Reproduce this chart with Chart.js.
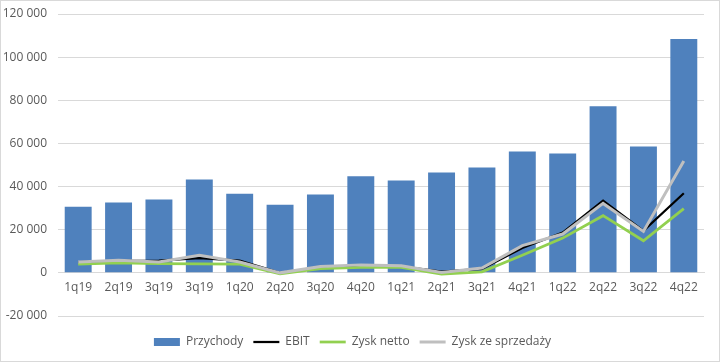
<!DOCTYPE html>
<html>
<head>
<meta charset="utf-8">
<script src="https://cdn.jsdelivr.net/npm/chart.js@4.4.1/dist/chart.umd.min.js"></script>
<style>
  html, body { margin: 0; padding: 0; background: #fff; }
  #wrap {
    position: absolute; left: 0; top: 0;
    width: 720px; height: 362px;
    box-sizing: border-box;
    border: 1px solid #d9d9d9;
  }
</style>
</head>
<body>
<div id="wrap"><canvas id="chart" width="718" height="360"></canvas></div>
<script>
// kwartały (etykiety jak w oryginale, z powtórzonym "3q19")
const quarters = [
  "1q19", "2q19", "3q19", "3q19", "1q20", "2q20", "3q20", "4q20",
  "1q21", "2q21", "3q21", "4q21", "1q22", "2q22", "3q22", "4q22",
];

const przychody = [
  30700, 32600, 34000, 43300, 36700, 31600, 36300, 44800,
  42800, 46500, 48800, 56300, 55300, 77200, 58600, 108400,
];

const ebit = [
  5000, 5500, 5700, 6800, 5700, 0, 2500, 3300,
  3000, 600, 1800, 11500, 18700, 33500, 19500, 36900,
];

const zyskNetto = [
  4000, 4600, 4300, 4200, 4000, -500, 2000, 2500,
  2500, -600, 500, 8200, 16100, 26500, 14900, 29800,
];

const zyskZeSprzedazy = [
  5000, 5900, 5000, 8200, 5000, 0, 2900, 3700,
  3300, 200, 2200, 12600, 18000, 32200, 19200, 51800,
];

const yTicks = { min: -20000, max: 120000, step: 20000 };

const textColor = "#595959";
const gridColor = "#d9d9d9";
const font = { family: "'Open Sans', 'Noto Sans', sans-serif", size: 12 };

// separator tysięcy jako spacja, np. "120 000"
const formatNumber = v => String(v).replace(/\B(?=(\d{3})+(?!\d))/g, " ");

const lineDataset = (label, data, color, width, order) => ({
  type: "line",
  label,
  data,
  borderColor: color,
  backgroundColor: color,
  borderWidth: width,
  pointRadius: 0,
  pointStyle: "line",
  tension: 0,
  order,
});

new Chart(document.getElementById("chart"), {
  type: "bar",
  data: {
    labels: quarters,
    datasets: [
      {
        label: "Przychody",
        data: przychody,
        backgroundColor: "#4f81bd",
        borderWidth: 0,
        categoryPercentage: 1,
        barPercentage: 0.667,
        pointStyle: "rect",
        order: 4,
      },
      lineDataset("EBIT", ebit, "#000000", 2.25, 3),
      lineDataset("Zysk netto", zyskNetto, "#92d050", 2.75, 2),
      lineDataset("Zysk ze sprzedaży", zyskZeSprzedazy, "#bfbfbf", 3, 1),
    ],
  },
  options: {
    responsive: false,
    animation: false,
    layout: {
      padding: { top: 13, right: 15, bottom: 3, left: 0 },
    },
    scales: {
      x: {
        // oś kategorii przy zerze, jak w Excelu
        position: { y: 0 },
        grid: { display: false },
        border: { display: true, color: gridColor },
        ticks: { color: textColor, font, padding: 0, maxRotation: 0, autoSkip: false },
      },
      // pusta oś, tylko odstęp między wykresem a legendą
      gap: {
        type: "category",
        position: "bottom",
        grid: { display: false },
        border: { display: false },
        ticks: { display: false },
        afterFit: scale => { scale.height = 10; },
      },
      y: {
        min: yTicks.min,
        max: yTicks.max,
        // niewidoczne kreski podziałki odsuwają etykiety od siatki
        grid: { color: gridColor, drawTicks: true, tickLength: 8, tickColor: "transparent" },
        border: { display: false },
        ticks: {
          stepSize: yTicks.step,
          color: textColor,
          font,
          padding: 3,
          callback: v => formatNumber(v),
        },
        afterFit: scale => { scale.width = 57; },
      },
    },
    plugins: {
      legend: {
        position: "bottom",
        labels: {
          color: textColor,
          font,
          usePointStyle: true,
          pointStyleWidth: 26,
          boxHeight: 8,
          padding: 10,
          sort: (a, b) => a.datasetIndex - b.datasetIndex,
        },
      },
      tooltip: { enabled: false },
    },
  },
});
</script>
</body>
</html>
